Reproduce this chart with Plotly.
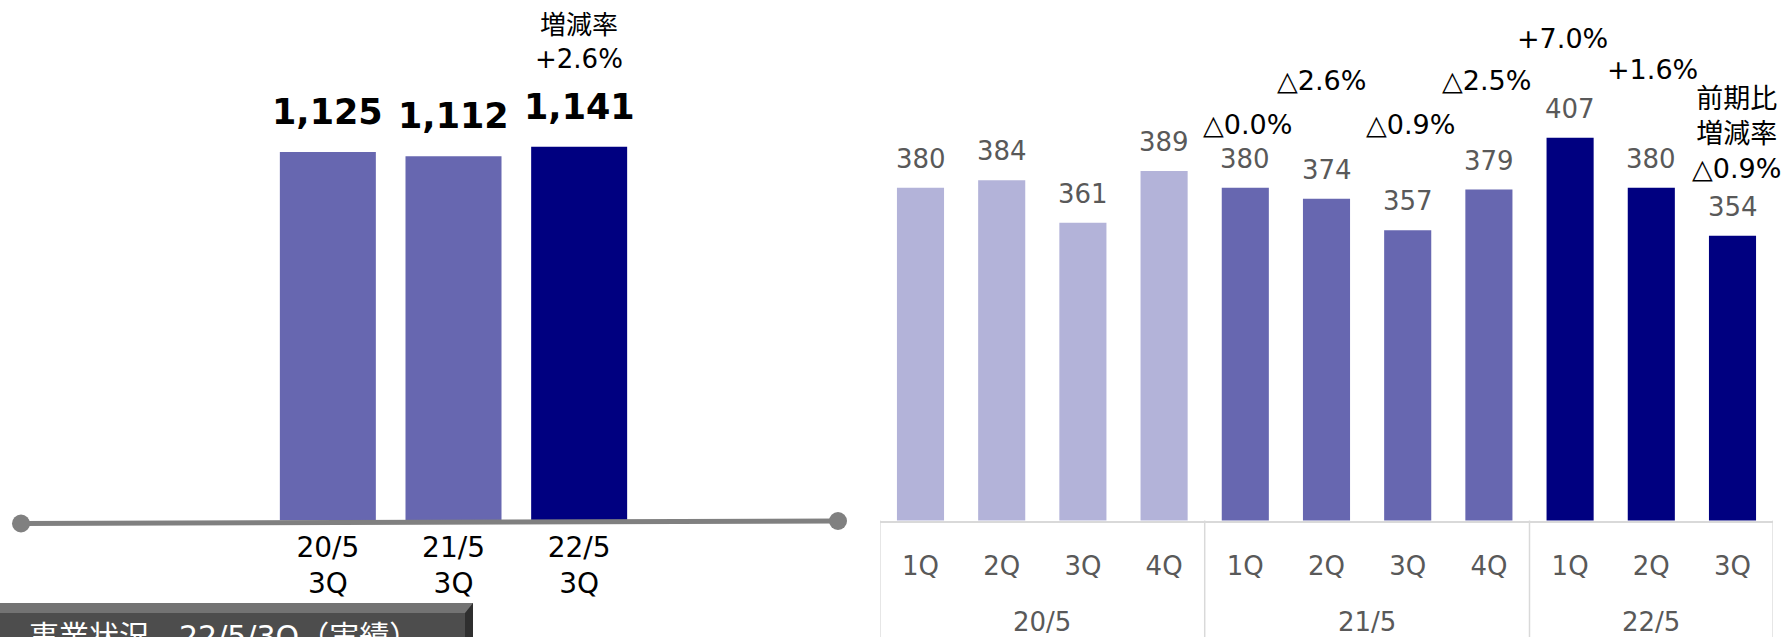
import plotly.graph_objects as go

W, H = 1787, 637

# ---------------- data ----------------
left_categories = ["20/5<br>3Q", "21/5<br>3Q", "22/5<br>3Q"]
left_values = [1125, 1112, 1141]
left_note = "増減率<br>+2.6%"

fiscal_years = ["20/5"] * 4 + ["21/5"] * 4 + ["22/5"] * 3
quarters = ["1Q", "2Q", "3Q", "4Q", "1Q", "2Q", "3Q", "4Q", "1Q", "2Q", "3Q"]
quarter_values = [380, 384, 361, 389, 380, 374, 357, 379, 407, 380, 354]
yoy_labels = ["", "", "", "", "△0.0%", "△2.6%", "△0.9%", "△2.5%",
              "+7.0%", "+1.6%", "前期比<br>増減率<br>△0.9%"]
footer_text = "事業状況　22/5/3Q（実績）"

# ---------------- styles ----------------
LIGHT, MID, DARK = "#B3B3D9", "#6767B0", "#000080"
left_colors = [MID, MID, DARK]
year_color = {"20/5": LIGHT, "21/5": MID, "22/5": DARK}
quarter_colors = [year_color[y] for y in fiscal_years]
FONT = "DejaVu Sans, Verdana, Noto Sans CJK JP"

# pixel-position layout for the growth-rate notes (centre y in px, x shift in px)
yoy_y_px = [None, None, None, None, 125, 81, 124, 81, 39, 69, 133]
yoy_dx = [0, 0, 0, 0, 2, -5, 3, -2, -8, 1, 4]


def pxx(x):
    return x / W


def pyy(y):
    return (H - y) / H


BASE = 520.5
q_idx = list(range(len(quarters)))

# group extents for the fiscal-year labels / dividers
groups = []
for i, fy in enumerate(fiscal_years):
    if not groups or groups[-1][0] != fy:
        groups.append([fy, i, i])
    else:
        groups[-1][2] = i

fig = go.Figure()

fig.add_trace(go.Bar(
    x=left_categories, y=left_values, marker_color=left_colors,
    marker_line_width=0, width=0.764, xaxis="x", yaxis="y",
    hoverinfo="skip", showlegend=False))

fig.add_trace(go.Bar(
    x=q_idx, y=quarter_values, marker_color=quarter_colors,
    marker_line_width=0, width=0.58, xaxis="x2", yaxis="y2",
    hoverinfo="skip", showlegend=False))

annotations = []
for i, v in enumerate(left_values):
    annotations.append(dict(
        x=i, y=v, xref="x", yref="y", text=f"{v:,}", showarrow=False,
        yanchor="bottom", yshift=18,
        font=dict(family=FONT, size=35, color="#000000", weight="bold")))
annotations.append(dict(
    x=2, y=pyy(41.5), xref="x", yref="paper", text=left_note, showarrow=False,
    yanchor="middle", font=dict(family=FONT, size=26, color="#000000")))

for i, v in enumerate(quarter_values):
    annotations.append(dict(
        x=i, y=v, xref="x2", yref="y2", text=str(v), showarrow=False,
        yanchor="bottom", yshift=12,
        font=dict(family=FONT, size=26, color="#595959")))
    if yoy_labels[i]:
        annotations.append(dict(
            x=i, y=pyy(yoy_y_px[i]), xref="x2", yref="paper", text=yoy_labels[i],
            showarrow=False, yanchor="middle", xshift=yoy_dx[i],
            font=dict(family=FONT, size=27, color="#000000")))

for fy, i0, i1 in groups:
    annotations.append(dict(
        x=(i0 + i1) / 2, y=pyy(622), xref="x2", yref="paper", text=fy,
        showarrow=False, yanchor="middle",
        font=dict(family=FONT, size=26, color="#595959")))

annotations.append(dict(
    x=pxx(27), y=pyy(636), xref="paper", yref="paper", text=footer_text,
    showarrow=False, xanchor="left", yanchor="middle",
    font=dict(family=FONT, size=30, color="#FFFFFF")))

shapes = [
    # left axis line with round ends
    dict(type="line", xref="paper", yref="paper", x0=pxx(21), y0=pyy(523.5),
         x1=pxx(838), y1=pyy(521), line=dict(color="#808080", width=5), layer="above"),
    dict(type="circle", xref="paper", yref="paper", x0=pxx(21 - 9), x1=pxx(21 + 9),
         y0=pyy(523.5 + 9), y1=pyy(523.5 - 9), fillcolor="#808080", line_width=0),
    dict(type="circle", xref="paper", yref="paper", x0=pxx(838 - 9), x1=pxx(838 + 9),
         y0=pyy(521 + 9), y1=pyy(521 - 9), fillcolor="#808080", line_width=0),
    # footer box
    dict(type="rect", xref="paper", yref="paper", x0=0, x1=pxx(473), y0=pyy(603),
         y1=pyy(613), fillcolor="#737373", line_width=0),
    dict(type="rect", xref="paper", yref="paper", x0=0, x1=pxx(465), y0=pyy(613),
         y1=pyy(640), fillcolor="#4D4D4D", line_width=0),
    dict(type="path", xref="paper", yref="paper",
         path=f"M {pxx(465)} {pyy(613)} L {pxx(473)} {pyy(603)} L {pxx(473)} {pyy(640)} L {pxx(465)} {pyy(640)} Z",
         fillcolor="#2F2F2F", line_width=0),
]
# fiscal-year dividers on the right axis
div_x = [groups[0][1] - 0.5] + [g[2] + 0.5 for g in groups]
for xd in div_x:
    shapes.append(dict(type="line", xref="x2", yref="paper", x0=xd, x1=xd,
                       y0=pyy(BASE), y1=pyy(645),
                       line=dict(color="#D9D9D9", width=1.5)))

fig.update_layout(
    width=W, height=H, margin=dict(l=0, r=0, t=0, b=0),
    paper_bgcolor="white", plot_bgcolor="white",
    font=dict(family=FONT),
    xaxis=dict(domain=[pxx(20), pxx(838)], range=[-2.45, 4.06], type="category",
               showline=False, showgrid=False, zeroline=False, ticks="",
               ticklabelstandoff=7,
               tickfont=dict(family=FONT, size=28, color="#000000"), anchor="y"),
    yaxis=dict(domain=[pyy(BASE), 1], range=[0, BASE / 0.3275], visible=False,
               anchor="x"),
    xaxis2=dict(domain=[pxx(879.9), pxx(1773.1)], range=[-0.5, 10.5],
                type="linear", tickvals=q_idx, ticktext=quarters,
                showline=True, linecolor="#D9D9D9", linewidth=1.5,
                showgrid=False, zeroline=False, ticks="", ticklabelstandoff=22,
                tickfont=dict(family=FONT, size=26, color="#595959"), anchor="y2"),
    yaxis2=dict(domain=[pyy(BASE), 1], range=[200, 200 + BASE / 1.849],
                visible=False, anchor="x2"),
    annotations=annotations, shapes=shapes, showlegend=False,
)

fig.write_html("out.html", config={"displayModeBar": False},
               post_script="document.body.style.margin='0';document.body.style.overflow='hidden';")
